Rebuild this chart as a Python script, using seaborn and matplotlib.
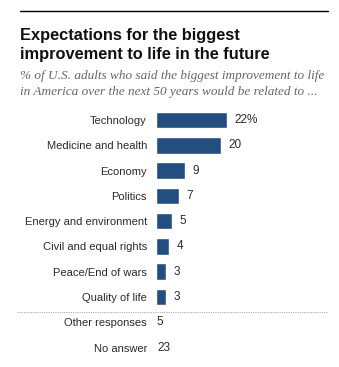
import matplotlib
matplotlib.use("Agg")
import matplotlib.pyplot as plt
import seaborn as sns
import pandas as pd
from matplotlib.lines import Line2D

categories = ["Technology", "Medicine and health", "Economy", "Politics",
              "Energy and environment", "Civil and equal rights",
              "Peace/End of wars", "Quality of life"]
values = [22, 20, 9, 7, 5, 4, 3, 3]
value_labels = ["22%", "20", "9", "7", "5", "4", "3", "3"]
other_categories = ["Other responses", "No answer"]
other_values = ["5", "23"]

title_lines = ["Expectations for the biggest", "improvement to life in the future"]
subtitle_lines = ["% of U.S. adults who said the biggest improvement to life",
                  "in America over the next 50 years would be related to ..."]

sns.set_theme(style="white")
plt.rcParams['font.family'] = ['Liberation Sans', 'DejaVu Sans']

W, H = 339, 367
fig = plt.figure(figsize=(W / 100, H / 100), dpi=100)

def fx(px):
    return px / W

def fy(py):
    return 1 - py / H

# axes in pixel layout
left_px, right_px = 156, 328
top_px, bot_px = 107.3, 360.3
ax = fig.add_axes([fx(left_px), fy(bot_px), fx(right_px - left_px), (bot_px - top_px) / H])

df = pd.DataFrame({"category": categories, "value": values})
sns.barplot(data=df, x="value", y="category", color="#254e80", width=0.66,
            orient="h", ax=ax, saturation=1)

all_labels = categories + other_categories
ax.set_yticks(range(len(all_labels)))
ax.set_yticklabels(all_labels, fontsize=8, color="#2a2a2a")
ax.tick_params(axis="y", length=0, pad=6.5)
ax.set_xlim(0, 53.3)
ax.set_ylim(9.5, -0.5)
ax.set_xticks([])
ax.set_xlabel("")
ax.set_ylabel("")
for s in ax.spines.values():
    s.set_visible(False)

for i, (v, lab) in enumerate(zip(values, value_labels)):
    ax.text(v + 2.4, i, lab, va="center", ha="left", fontsize=8.5, color="#2a2a2a")
for j, lab in enumerate(other_values):
    ax.text(0.3, len(categories) + j, lab, va="center", ha="left", fontsize=8.5, color="#2a2a2a")

# top rule
fig.add_artist(Line2D([fx(20), fx(328)], [fy(11), fy(11)], color="black", lw=1))
# dotted separator
fig.add_artist(Line2D([fx(17), fx(328)], [fy(312), fy(312)], color="#aaaaaa", lw=0.8,
                      linestyle=(0, (1, 1))))

for line, base in zip(title_lines, [40, 59]):
    fig.text(fx(20), fy(base), line, ha="left", va="baseline", fontsize=11.8,
             fontweight="bold", color="#111111")
for line, base in zip(subtitle_lines, [78.5, 95.5]):
    fig.text(fx(20), fy(base), line, ha="left", va="baseline", fontsize=9.5,
             style="italic", family=["Liberation Serif", "DejaVu Serif"], color="#666666")

fig.savefig("out.png", dpi=100)
